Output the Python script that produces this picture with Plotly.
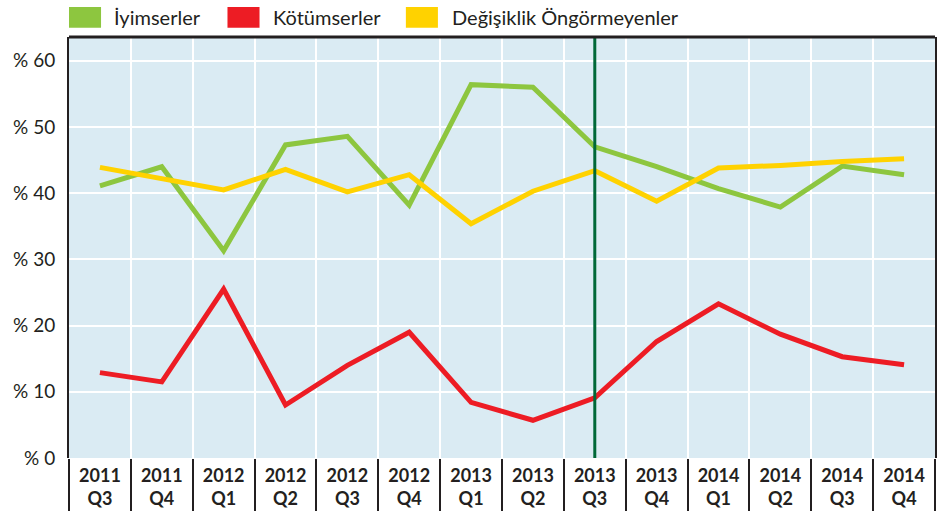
import plotly.graph_objects as go

# ---- data ----
quarters = ["2011<br>Q3", "2011<br>Q4", "2012<br>Q1", "2012<br>Q2", "2012<br>Q3", "2012<br>Q4",
            "2013<br>Q1", "2013<br>Q2", "2013<br>Q3", "2013<br>Q4", "2014<br>Q1", "2014<br>Q2",
            "2014<br>Q3", "2014<br>Q4"]
iyimserler = [41.1, 44.0, 31.3, 47.3, 48.6, 38.2, 56.4, 56.0, 47.0, 44.0, 40.7, 37.9, 44.1, 42.8]
kotumserler = [12.9, 11.5, 25.5, 8.0, 14.0, 19.0, 8.4, 5.7, 9.1, 17.6, 23.3, 18.7, 15.3, 14.1]
degisiklik_ongormeyenler = [43.9, 42.2, 40.5, 43.6, 40.2, 42.8, 35.4, 40.3, 43.4, 38.8, 43.8, 44.2, 44.8, 45.2]
series_names = ["İyimserler", "Kötümserler", "Değişiklik Öngörmeyenler"]
y_tick_values = [0, 10, 20, 30, 40, 50, 60]
y_tick_labels = ["% 0", "% 10", "% 20", "% 30", "% 40", "% 50", "% 60"]
marker_quarter = "2013<br>Q3"

# ---- style ----
GREEN = "#8dc63f"
RED = "#ed1c24"
YELLOW = "#ffd200"
DARK = "#231f20"
FONT = "Lato"

fig = go.Figure()
for name, vals, col in [(series_names[0], iyimserler, GREEN),
                        (series_names[1], kotumserler, RED),
                        (series_names[2], degisiklik_ongormeyenler, YELLOW)]:
    fig.add_trace(go.Scatter(x=quarters, y=vals, mode="lines", name=name,
                             line=dict(color=col, width=5), showlegend=False))

# vertical marker line at 2013 Q3
fig.add_shape(type="line", xref="x", yref="paper", x0=marker_quarter, x1=marker_quarter,
              y0=0, y1=1, line=dict(color="#006837", width=3), layer="above")
# top border
fig.add_shape(type="line", xref="paper", yref="paper", x0=0, x1=1, y0=1, y1=1,
              line=dict(color=DARK, width=3), layer="above")

# manual legend
legend_items = [
    (series_names[0], GREEN, 0.0, 0.037, 0.0497),
    (series_names[1], RED, 0.183, 0.220, 0.233),
    (series_names[2], YELLOW, 0.389, 0.426, 0.440),
]
for name, col, x0, x1, xt in legend_items:
    fig.add_shape(type="rect", xref="paper", yref="paper", x0=x0, x1=x1, y0=1.022, y1=1.071,
                  fillcolor=col, line=dict(width=0))
    fig.add_annotation(xref="paper", yref="paper", x=xt, y=1.047, text=name, showarrow=False,
                       xanchor="left", yanchor="middle",
                       font=dict(family=FONT, size=20, color=DARK))

fig.update_xaxes(type="category", range=[-0.5, 13.5], tickson="boundaries",
                 ticks="outside", ticklen=55, tickwidth=2, tickcolor=DARK,
                 showgrid=True, gridcolor="white", gridwidth=2, showline=False, zeroline=False,
                 tickfont=dict(family=FONT, size=18, color=DARK, weight="bold"),
                 ticklabelstandoff=5, automargin=False)
fig.update_yaxes(range=[0, 63.6], tickvals=y_tick_values, ticktext=y_tick_labels,
                 showgrid=True, gridcolor="white", gridwidth=2, zeroline=False,
                 showline=True, linecolor=DARK, linewidth=2, mirror=True,
                 ticks="outside", ticklen=8, tickcolor="rgba(0,0,0,0)",
                 tickfont=dict(family=FONT, size=19, color=DARK), automargin=False)

fig.update_layout(width=945, height=511, margin=dict(l=69, r=10, t=37, b=53, autoexpand=False),
                  plot_bgcolor="#daebf3", paper_bgcolor="white",
                  font=dict(family=FONT, color=DARK))

fig.write_html("out.html", config={"displayModeBar": False},
               post_script="document.body.style.margin='0';document.body.style.overflow='hidden';")
